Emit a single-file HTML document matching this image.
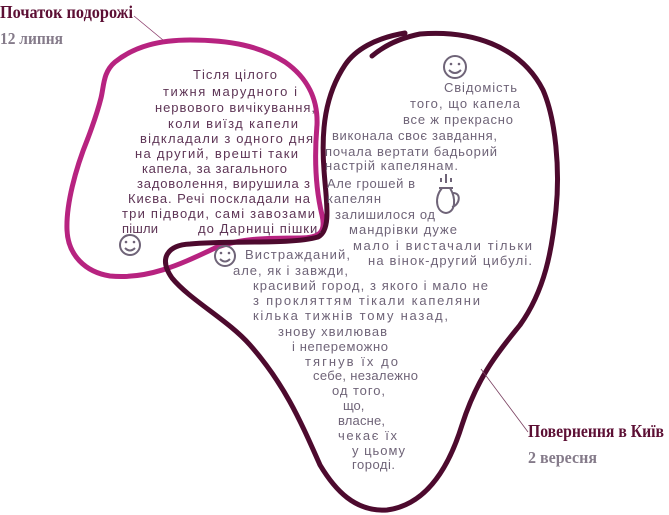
<!DOCTYPE html>
<html><head><meta charset="utf-8"><style>
html,body{margin:0;padding:0;background:#fff;}
svg{display:block}
.t{font-family:"Liberation Sans",sans-serif;font-size:13px;fill:#6f6478}
.p{fill:#5e3556}
.h{font-family:"Liberation Serif",serif;font-weight:bold}
</style></head><body>
<svg width="669" height="515" viewBox="0 0 669 515" xmlns="http://www.w3.org/2000/svg">
<path d="M101,98 C104,86 103,72 115,62 C135,46 160,40 190,40 C230,40 260,46 285,62 C308,78 318,100 317,125 C314,160 316,190 322,215 C326,232 320,238 300,238 C270,238 240,238 215,248 C185,262 150,280 110,276 C85,272 68,255 67,230 C66,205 75,170 88,138 C94,122 98,110 101,98 Z" fill="none" stroke="#b72380" stroke-width="5" stroke-linejoin="round"/>
<line x1="134" y1="16" x2="163" y2="40" stroke="#8a3a6a" stroke-width="0.8"/>
<path d="M372,56 C385,45 400,38 420,34 C470,30 520,45 543,90 C556,120 560,170 556,210 C552,250 545,290 520,325 C500,350 478,375 462,425 C448,470 425,505 387,510 C355,512 335,490 320,465 C300,420 285,385 250,345 C228,320 190,300 172,278 C158,258 168,245 190,244 C230,240 290,245 318,237 C332,230 326,200 324,170 C321,130 325,95 345,65 C355,50 375,38 405,33" fill="none" stroke="#4d0a2e" stroke-width="5" stroke-linecap="round" stroke-linejoin="round"/>
<line x1="481" y1="369" x2="528" y2="432" stroke="#7a4060" stroke-width="0.8"/>
<text class="h" x="0" y="18" font-size="18" fill="#5c0f34" textLength="133" lengthAdjust="spacingAndGlyphs">Початок подорожі</text>
<text class="h" x="0" y="44" font-size="17" fill="#857b8a" textLength="63" lengthAdjust="spacingAndGlyphs">12 липня</text>
<text class="h" x="528" y="437" font-size="18" fill="#5c0f34" textLength="136" lengthAdjust="spacingAndGlyphs">Повернення в Київ</text>
<text class="h" x="528" y="463" font-size="17" fill="#857b8a" textLength="69" lengthAdjust="spacingAndGlyphs">2 вересня</text>
<g fill="none" stroke="#6f6478" stroke-width="2">
<circle cx="130" cy="245" r="10"/><path d="M125,248 Q130,253 135,248"/>
<circle cx="225" cy="256" r="10"/><path d="M220,259 Q225,264 230,259"/>
<circle cx="455" cy="67" r="11"/><path d="M449,70 Q455,76 461,70"/>
<path d="M439,188 h14 M442,188 C434,198 436,212 446,213 C456,212 456,198 450,188 M452,193 C462,192 460,205 452,207"/>
<path d="M441,182 v-4 M446,183 v-9 M451,182 v-4"/>
</g>
<g fill="#6f6478"><circle cx="126" cy="242" r="1.3"/><circle cx="134" cy="242" r="1.3"/><circle cx="221" cy="253" r="1.3"/><circle cx="229" cy="253" r="1.3"/><circle cx="451" cy="64" r="1.3"/><circle cx="459" cy="64" r="1.3"/></g>
<g class="t p" lengthAdjust="spacingAndGlyphs">
<text x="193" y="79" textLength="84">Тісля цілого</text>
<text x="163" y="96" textLength="134">тижня марудного і</text>
<text x="155" y="112" textLength="160">нервового вичікування,</text>
<text x="168" y="128" textLength="130">коли виїзд капели</text>
<text x="140" y="143" textLength="173">відкладали з одного дня</text>
<text x="135" y="158" textLength="163">на другий, врешті таки</text>
<text x="142" y="173" textLength="145">капела, за загального</text>
<text x="137" y="188" textLength="173">задоволення, вирушила з</text>
<text x="128" y="203" textLength="182">Києва. Речі поскладали на</text>
<text x="122" y="218" textLength="193">три підводи, самі завозами</text>
<text x="122" y="233" textLength="36">пішли</text>
<text x="198" y="233" textLength="124">до Дарниці пішки.</text>
</g>
<g class="t" lengthAdjust="spacingAndGlyphs">
<text x="444" y="92" textLength="73">Свідомість</text>
<text x="410" y="108" textLength="110">того, що капела</text>
<text x="403" y="124" textLength="110">все ж прекрасно</text>
<text x="332" y="140" textLength="165">виконала своє завдання,</text>
<text x="325" y="156" textLength="172">почала вертати бадьорий</text>
<text x="325" y="170" textLength="133">настрій капелянам.</text>
<text x="327" y="188" textLength="88">Але грошей в</text>
<text x="327" y="203" textLength="54">капелян</text>
<text x="335" y="219" textLength="100">залишилося од</text>
<text x="349" y="234" textLength="108">мандрівки дуже</text>
<text x="353" y="250" textLength="179">мало і вистачали тільки</text>
<text x="368" y="265" textLength="164">на вінок-другий цибулі.</text>
<text x="245" y="259" textLength="105">Вистражданий,</text>
<text x="233" y="275" textLength="115">але, як і завжди,</text>
<text x="253" y="290" textLength="235">красивий город, з якого і мало не</text>
<text x="253" y="305" textLength="227">з прокляттям тікали капеляни</text>
<text x="253" y="320" textLength="195">кілька тижнів тому назад,</text>
<text x="278" y="336" textLength="109">знову хвилював</text>
<text x="292" y="351" textLength="96">і непереможно</text>
<text x="305" y="366" textLength="93">тягнув їх до</text>
<text x="313" y="380" textLength="105">себе, незалежно</text>
<text x="332" y="395" textLength="53">од того,</text>
<text x="343" y="410">що,</text>
<text x="338" y="425" textLength="47">власне,</text>
<text x="338" y="440" textLength="59">чекає їх</text>
<text x="352" y="455" textLength="53">у цьому</text>
<text x="352" y="469" textLength="43">городі.</text>
</g>
</svg>
</body></html>
